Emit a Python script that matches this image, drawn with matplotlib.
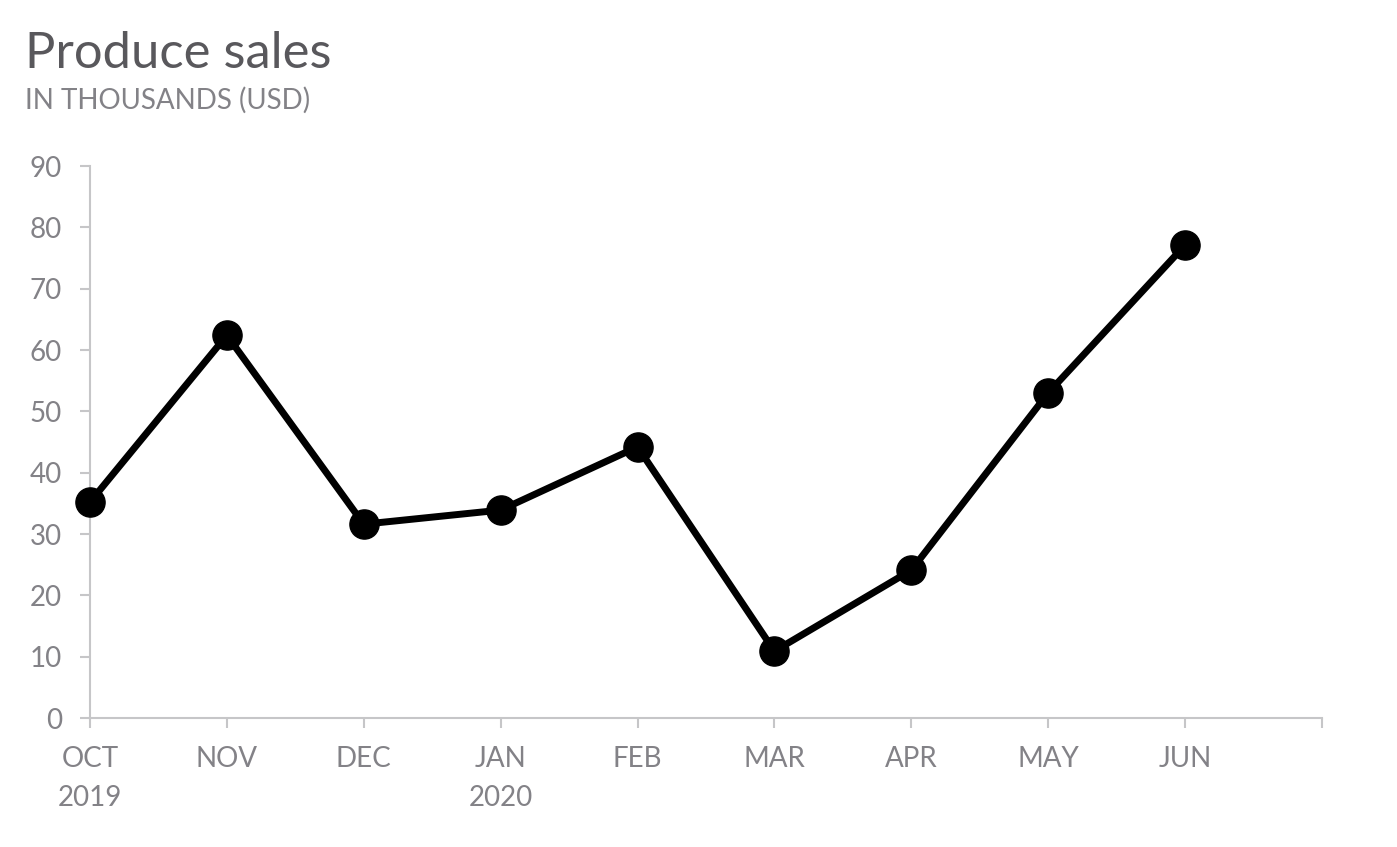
import matplotlib.pyplot as plt

# data
months = ['OCT', 'NOV', 'DEC', 'JAN', 'FEB', 'MAR', 'APR', 'MAY', 'JUN']
years = ['2019', '', '', '2020', '', '', '', '', '']
sales = [35.2, 62.4, 31.6, 33.9, 44.2, 10.9, 24.1, 53.0, 77.1]
y_ticks = [0, 10, 20, 30, 40, 50, 60, 70, 80, 90]

plt.rcParams['font.family'] = ['Lato', 'DejaVu Sans']

grey_axis = '#c6c6c8'
grey_text = '#838287'

fig = plt.figure(figsize=(13.97, 8.47), dpi=100)
ax = fig.add_axes([0.0644, 0.1523, 0.9463 - 0.0644, 0.804 - 0.1523])

x = list(range(len(months)))
ax.plot(x, sales, color='black', lw=5, marker='o', ms=21,
        solid_joinstyle='round', clip_on=False, zorder=3)

# one extra empty slot at the right end of the axis
ax.set_xlim(0, len(months))
ax.set_ylim(0, 90)
ax.set_xticks(list(range(len(months) + 1)))
labels = [m + ('\n' + yr if yr else '\n') for m, yr in zip(months, years)] + ['']
ax.set_xticklabels(labels, linespacing=1.65)
ax.set_yticks(y_ticks)

for s in ['top', 'right']:
    ax.spines[s].set_visible(False)
for s in ['left', 'bottom']:
    ax.spines[s].set_color(grey_axis)
    ax.spines[s].set_linewidth(1.5)

ax.tick_params(axis='both', colors=grey_axis, width=1.5, length=7,
               labelcolor=grey_text, labelsize=20)
ax.tick_params(axis='y', pad=13)
ax.tick_params(axis='x', pad=13)
for lab in ax.get_xticklabels():
    lab.set_verticalalignment('top')

fig.text(0.018, 0.92, 'Produce sales', fontsize=36.5, color='#59585c')
fig.text(0.018, 0.872, 'IN THOUSANDS (USD)', fontsize=20, color=grey_text)

fig.savefig('out.png', dpi=100, facecolor='white')
